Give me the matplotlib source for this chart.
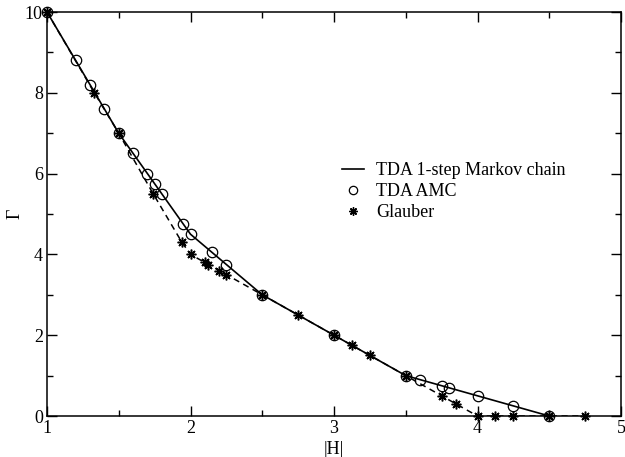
import matplotlib
matplotlib.use("Agg")
import matplotlib.pyplot as plt
from matplotlib.lines import Line2D

plt.rcParams["font.family"] = ["Liberation Serif", "DejaVu Serif"]

# TDA 1-step Markov chain (solid line)
markov_h = [1.0, 1.5, 2.0, 2.5, 3.5, 4.5]
markov_g = [10.0, 7.0, 4.5, 3.0, 1.0, 0.0]

# TDA AMC (open circles)
amc_h = [1.0, 1.2, 1.3, 1.4, 1.5, 1.6, 1.7, 1.75, 1.8, 1.95, 2.0, 2.15, 2.25,
         2.5, 3.0, 3.5, 3.6, 3.75, 3.8, 4.0, 4.25, 4.5]
amc_g = [10.0, 8.8, 8.2, 7.6, 7.0, 6.5, 6.0, 5.75, 5.5, 4.75, 4.5, 4.05, 3.75,
         3.0, 2.0, 1.0, 0.9, 0.75, 0.7, 0.5, 0.25, 0.0]

# Glauber (stars, dashed)
glauber_h = [1.0, 1.33, 1.5, 1.74, 1.94, 2.0, 2.1, 2.125, 2.2, 2.25, 2.5, 2.75,
             3.0, 3.125, 3.25, 3.5, 3.75, 3.85, 4.0, 4.125, 4.25, 4.5, 4.75]
glauber_g = [10.0, 8.0, 7.0, 5.5, 4.3, 4.0, 3.8, 3.75, 3.6, 3.5, 3.0, 2.5,
             2.0, 1.75, 1.5, 1.0, 0.5, 0.3, 0.0, 0.0, 0.0, 0.0, 0.0]

fig = plt.figure(figsize=(6.25, 4.57), dpi=100)
ax = fig.add_axes([0.0752, 0.0897, 0.9184, 0.884])

star = (8, 2, 0)
ax.plot(glauber_h, glauber_g, color="black", ls=(0, (4, 3)), lw=1.1, zorder=2)
ax.plot(markov_h, markov_g, color="black", lw=1.2, zorder=3)
ax.plot(glauber_h, glauber_g, ls="none", marker=star, ms=7, mew=1.1,
        color="black", zorder=4, clip_on=False)
ax.plot(amc_h, amc_g, ls="none", marker="o", ms=7.5, mfc="none", mec="black",
        mew=0.9, zorder=5, clip_on=False)

ax.set_xlim(1, 5)
ax.set_ylim(0, 10)
ax.set_xticks([1, 2, 3, 4, 5])
ax.set_xticks([1.5, 2.5, 3.5, 4.5], minor=True)
ax.set_yticks([0, 2, 4, 6, 8, 10])
ax.set_yticks([1, 3, 5, 7, 9], minor=True)
ax.tick_params(which="both", direction="in", top=True, right=True,
               labelsize=13, width=1.0)
ax.tick_params(which="major", length=7.5, pad=3)
ax.tick_params(which="minor", length=4.2)
for s in ax.spines.values():
    s.set_linewidth(1.1)

ax.set_xlabel("|H|", fontsize=13, labelpad=3)
ax.set_ylabel("Γ", fontsize=13, labelpad=1)

handles = [
    Line2D([], [], color="black", lw=1.2),
    Line2D([], [], ls="none", marker="o", ms=6, mfc="none", mec="black", mew=0.9),
    Line2D([], [], ls="none", marker=star, ms=6, mew=1.0, color="black"),
]
labels = ["TDA 1-step Markov chain", "TDA AMC", "Glauber"]
ax.legend(handles, labels, loc="center left", bbox_to_anchor=(0.485, 0.556),
          frameon=False, fontsize=13, handlelength=1.25, handletextpad=0.65,
          labelspacing=0.22)

fig.savefig("out.png", dpi=100)
